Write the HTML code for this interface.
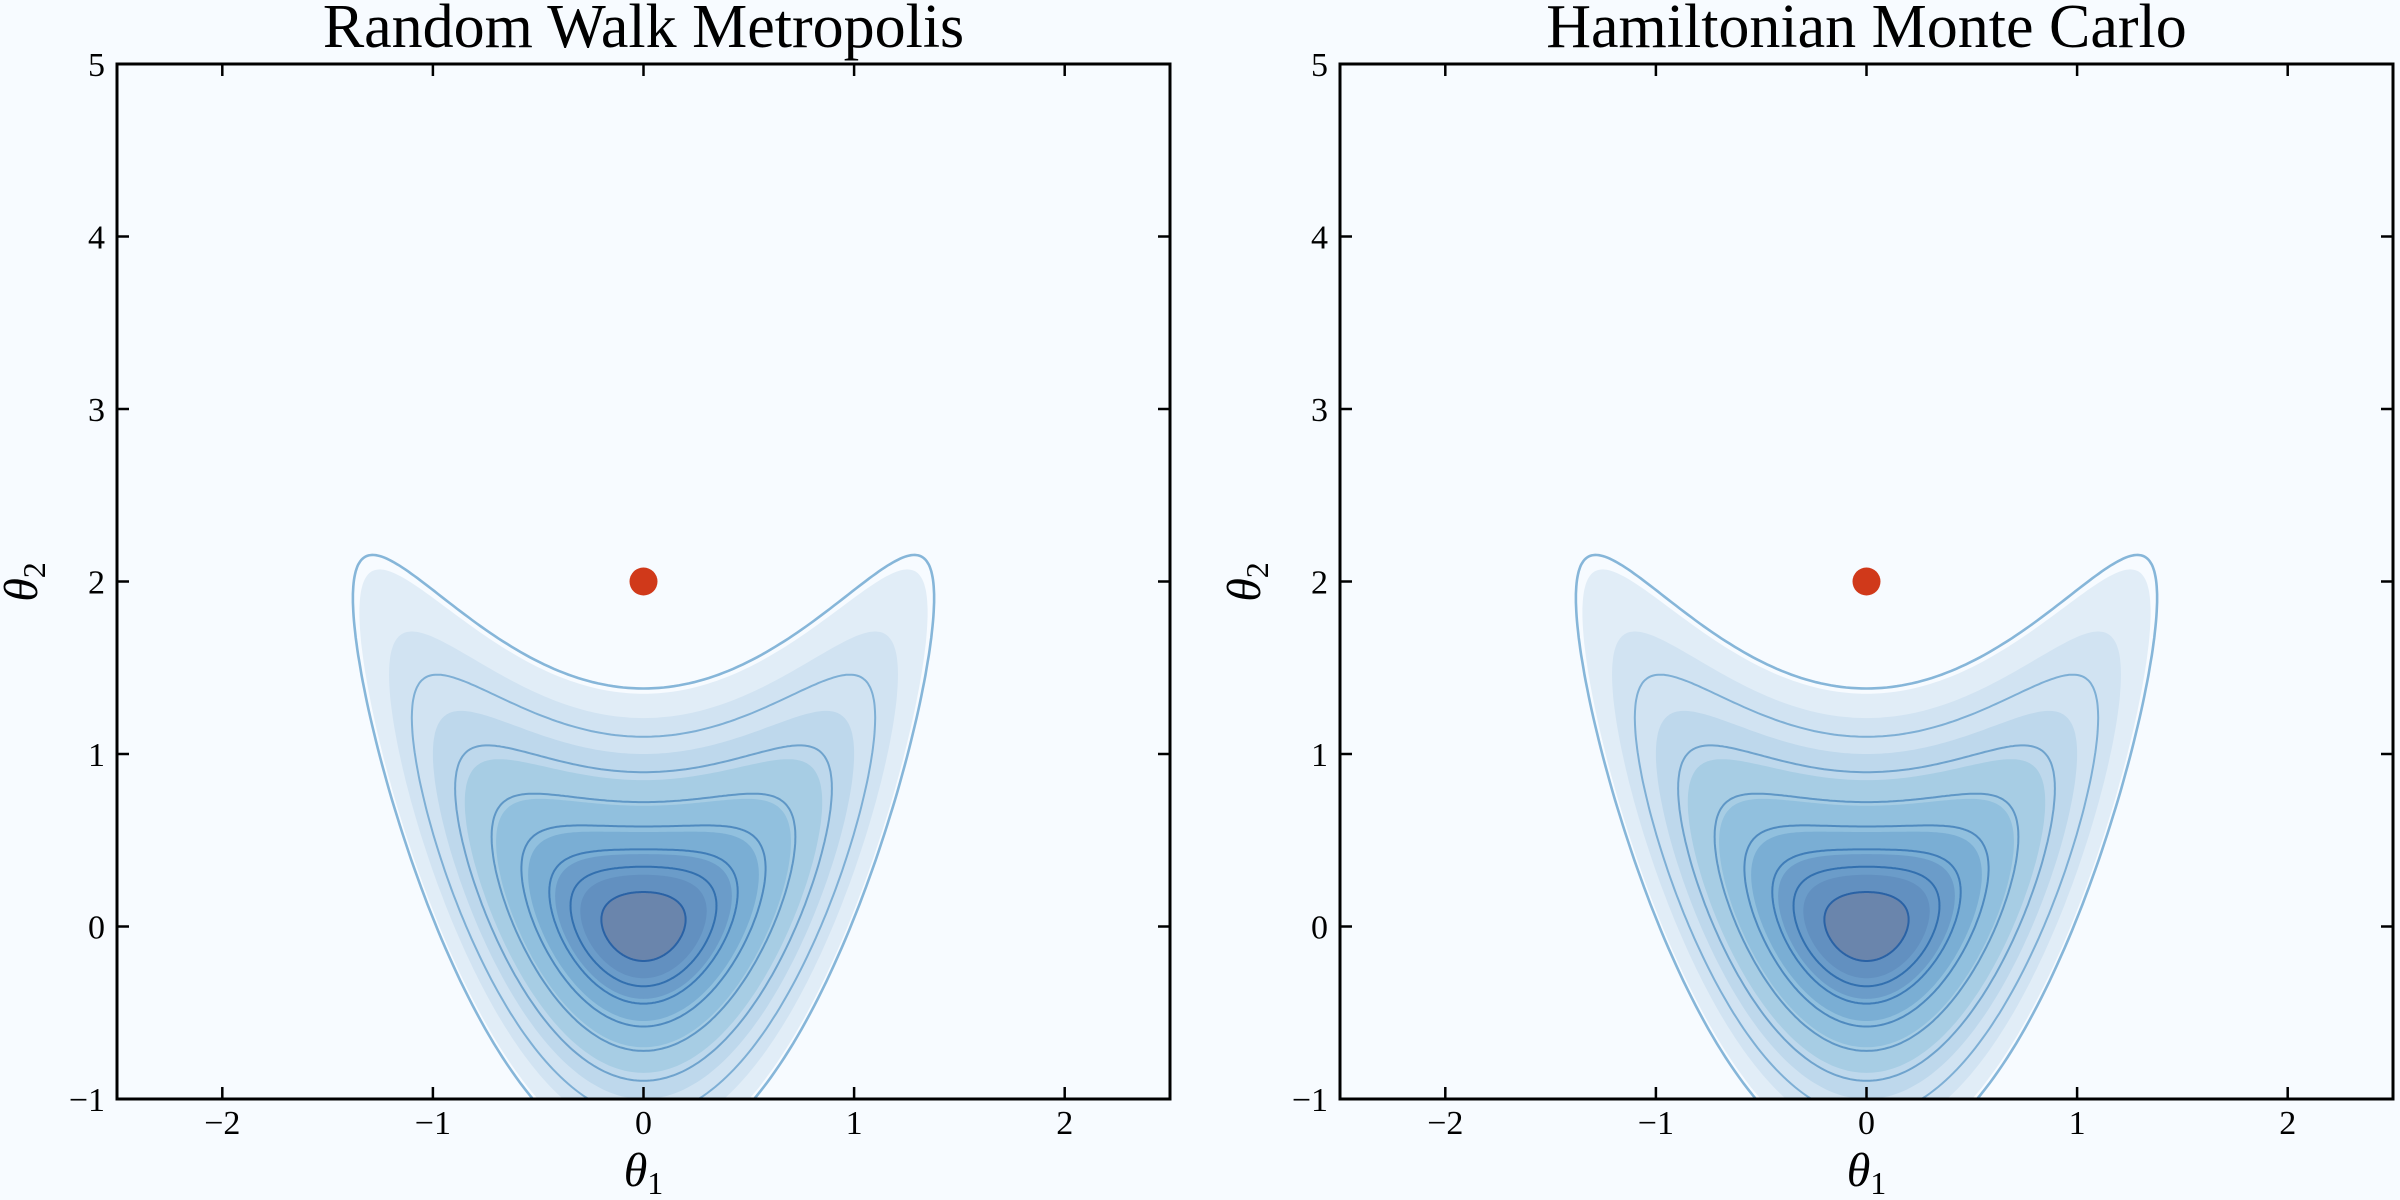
<!DOCTYPE html>
<html><head><meta charset="utf-8"><style>
html,body{margin:0;padding:0;background:#f7fbff;}
svg{display:block;}
text{font-family:"Liberation Serif","DejaVu Serif",serif;fill:#000;}
</style></head><body>
<svg id="fig" width="2400" height="1200" viewBox="0 0 2400 1200" xmlns="http://www.w3.org/2000/svg">
<rect x="0" y="0" width="2400" height="1200" fill="#f7fbff"/>
</svg>
<script>
// data
const panelTitles = ["Random Walk Metropolis", "Hamiltonian Monte Carlo"];
const xTicks = [-2, -1, 0, 1, 2];
const yTicks = [-1, 0, 1, 2, 3, 4, 5];
const xTickLabels = ["\u22122", "\u22121", "0", "1", "2"];
const yTickLabels = ["\u22121", "0", "1", "2", "3", "4", "5"];
const fillLevels = [0.91, 0.73, 0.5, 0.36, 0.245, 0.15, 0.088, 0.045, 0.02];
const fillColors = ["#e1edf7", "#d1e3f2", "#bed8ec", "#a7cde4", "#91c0de", "#7aaed4", "#6b9cc9", "#6290c0", "#6a85ac"];
const lineLevels = [0.952, 0.605, 0.40, 0.26, 0.168, 0.10, 0.06, 0.02];
const lineColors = ["#86b6d9", "#7eafd5", "#6fa3cd", "#5f97c6", "#4f8abf", "#407db8", "#3370af", "#2a62a5"];
const initPoint = [0, 2];

const NS = "http://www.w3.org/2000/svg";
const svg = document.getElementById("fig");
const panels = [{x0: 117, x1: 1170}, {x0: 1340, x1: 2393}];
const yTop = 64, yBot = 1099;
const xDom = [-2.5, 2.5], yDom = [-1, 5];

function mk(tag, attrs, parent) {
  const e = document.createElementNS(NS, tag);
  for (const k in attrs) e.setAttribute(k, attrs[k]);
  (parent || svg).appendChild(e);
  return e;
}

panels.forEach((p, pi) => {
  const sx = v => p.x0 + (v - xDom[0]) / (xDom[1] - xDom[0]) * (p.x1 - p.x0);
  const sy = v => yBot - (v - yDom[0]) / (yDom[1] - yDom[0]) * (yBot - yTop);
  const g = mk("g", {});
  
  
  const clip = mk("clipPath", {id: "clip" + pi}, g);
  mk("rect", {x: p.x0, y: yTop, width: p.x1 - p.x0, height: yBot - yTop}, clip);
  const plot = mk("g", {"clip-path": "url(#clip" + pi + ")"}, g);

  function contourPath(L) {
    const r = Math.sqrt(2 * L);
    let d = "";
    for (let i = 0; i <= 360; i++) {
      const t = i / 360 * 2 * Math.PI;
      const x = r * Math.cos(t);
      const y = x * x + r * Math.sin(t);
      d += (i === 0 ? "M" : "L") + sx(x).toFixed(1) + "," + sy(y).toFixed(1);
    }
    return d + "Z";
  }
  fillLevels.forEach((L, i) => {
    const e = mk("path", {d: contourPath(L), fill: fillColors[i], stroke: "none"}, plot);
    
    
  });
  lineLevels.forEach((L, i) => {
    const e = mk("path", {d: contourPath(L), fill: "none", stroke: lineColors[i], "stroke-width": i === 0 ? 2.6 : 2}, plot);
    
    
  });
  const dot = mk("circle", {cx: sx(initPoint[0]), cy: sy(initPoint[1]), r: 14, fill: "#d0391a"}, plot);
  
  

  xTicks.forEach((v, i) => {
    const X = sx(v);
    mk("line", {x1: X, x2: X, y1: yBot, y2: yBot - 12, stroke: "#000", "stroke-width": 2.5}, g);
    mk("line", {x1: X, x2: X, y1: yTop, y2: yTop + 12, stroke: "#000", "stroke-width": 2.5}, g);
    const t = mk("text", {x: X, y: 1134, "font-size": 34, "text-anchor": "middle"}, g);
    t.textContent = xTickLabels[i];
    
    
  });
  yTicks.forEach((v, i) => {
    const Y = sy(v);
    mk("line", {x1: p.x0, x2: p.x0 + 12, y1: Y, y2: Y, stroke: "#000", "stroke-width": 2.5}, g);
    mk("line", {x1: p.x1, x2: p.x1 - 12, y1: Y, y2: Y, stroke: "#000", "stroke-width": 2.5}, g);
    const t = mk("text", {x: p.x0 - 12, y: Y + 12, "font-size": 34, "text-anchor": "end"}, g);
    t.textContent = yTickLabels[i];
    
    
  });
  const frame = mk("rect", {x: p.x0, y: yTop, width: p.x1 - p.x0, height: yBot - yTop, fill: "none", stroke: "#000", "stroke-width": 3}, g);
  
  

  const title = mk("text", {x: (p.x0 + p.x1) / 2, y: 47, "font-size": 62, "text-anchor": "middle"}, g);
  title.textContent = panelTitles[pi];
  
  

  const xl = mk("text", {x: (p.x0 + p.x1) / 2, y: 1186, "font-size": 48, "text-anchor": "middle", "font-style": "italic"}, g);
  xl.innerHTML = 'θ<tspan font-size="32" dy="8" font-style="normal">1</tspan>';
  
  

  const yx = p.x0 - 80, yy = 582;
  const yl = mk("text", {x: yx, y: yy, "font-size": 48, "text-anchor": "middle", "font-style": "italic", transform: "rotate(-90 " + yx + " " + yy + ")"}, g);
  yl.innerHTML = 'θ<tspan font-size="32" dy="8" font-style="normal">2</tspan>';
  
  
});
</script>
</body></html>
